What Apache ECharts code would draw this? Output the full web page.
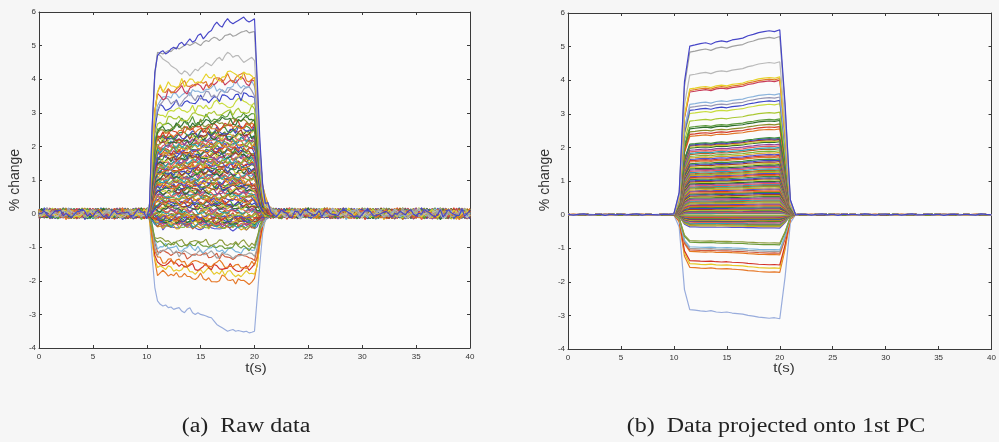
<!DOCTYPE html>
<html><head><meta charset="utf-8">
<script src="https://cdn.jsdelivr.net/npm/echarts@6/dist/echarts.min.js"></script>
<style>html,body{margin:0;padding:0;background:#f6f6f6}#c{width:999px;height:442px}</style>
</head><body><div id="c"></div><script>
// ---- data ----
const xTicks = [0, 5, 10, 15, 20, 25, 30, 35, 40];
const yTicks = [-4, -3, -2, -1, 0, 1, 2, 3, 4, 5, 6];
const rawStep = 0.25, nRaw = 161; // raw sampling grid 0..40 s
const pcStep = 0.5, nPc = 81;     // PC sampling grid 0..40 s

// plateau (end-of-stimulus) levels of every trace in panel (a) raw data
const rawLevels = [5.8, 5.4, 4.6, 4.15, 4.05, 3.95, 3.8, 3.65, 3.5, 3.3, 3.05, 2.9, 2.8, 2.75,
 2.65, 2.6, 2.52, 2.48, 2.42, 2.38, 2.33, 2.3, 2.25, 2.21, 2.17, 2.12, 2.08, 2.03, 2.0, 1.96, 1.92, 1.88, 1.84, 1.8,
 1.76, 1.72, 1.69, 1.65, 1.61, 1.57, 1.53, 1.5, 1.46, 1.42, 1.38, 1.35, 1.31, 1.27, 1.23, 1.2, 1.16, 1.12, 1.08, 1.05,
 1.01, 0.97, 0.93, 0.9, 0.86, 0.82, 0.78, 0.75, 0.71, 0.67, 0.63, 0.6, 0.56, 0.52, 0.48, 0.45, 0.41, 0.37, 0.33, 0.3,
 0.26, 0.22, 0.18, 0.15, 0.11, 0.07, 0.04,
 -0.02, -0.05, -0.08, -0.1, -0.13, -0.15, -0.18, -0.2, -0.23, -0.25, -0.28, -0.3, -0.33, -0.35, -0.38, -0.4, -0.43,
 -0.9, -1.0, -1.1, -1.25, -1.3, -1.55, -1.65, -1.8, -2.0, -3.5];

// plateau levels of the same traces in panel (b), projected onto 1st PC
const pcLevels = [5.5, 5.3, 4.55, 4.1, 4.05, 4.0, 3.6, 3.5, 3.4, 3.3, 3.05, 2.85, 2.8, 2.7,
 2.62, 2.55, 2.3, 2.27, 2.24, 2.2, 2.17, 2.1, 2.05, 2.0, 1.96, 1.9, 1.85, 1.8, 1.76, 1.72, 1.66, 1.62, 1.58, 1.53,
 1.49, 1.45, 1.41, 1.37, 1.33, 1.3, 1.27, 1.24, 1.21, 1.18, 1.14, 1.1, 1.07, 1.04, 1.0, 0.97, 0.93, 0.9, 0.87, 0.84,
 0.8, 0.77, 0.74, 0.7, 0.67, 0.64, 0.6, 0.57, 0.54, 0.5, 0.47, 0.44, 0.41, 0.38, 0.35, 0.32, 0.29, 0.26, 0.23, 0.2,
 0.17, 0.14, 0.12, 0.09, 0.07, 0.05, 0.03,
 -0.02, -0.04, -0.06, -0.08, -0.1, -0.12, -0.14, -0.16, -0.18, -0.2, -0.22, -0.25, -0.28, -0.3, -0.33, -0.36, -0.4,
 -0.85, -0.9, -1.05, -1.1, -1.15, -1.2, -1.5, -1.6, -1.72, -3.1];

// normalised response shape of the raw traces (t = 0, 0.25, ... 40 s): flat 0 before 10.25 s and after 21.5 s
const rawProfileCore = [0.05,0.4,0.75,0.88,
 0.89,0.9,0.9,0.91,0.91,0.92,0.92,0.93,0.93,0.93,0.94,0.94,0.95,0.95,0.95,0.96,0.96,0.97,0.97,0.97,
 0.98,0.98,0.98,0.98,0.99,0.99,0.99,0.99,1.0,1.0,1.0,1.0,1.0,1.0,1.0,1.0,
 0.8,0.45,0.2,0.1,0.05,0.02]; // t = 10.25 ... 21.5 s
const rawProfile = [].concat(Array(41).fill(0), rawProfileCore, Array(74).fill(0));

// shape of the 1st principal component (t = 0, 0.5, ... 40 s)
const pcProfile = [0.002,-0.003,0.001,0.004,-0.002,0.0,0.003,-0.004,0.002,-0.001,0.003,-0.002,0.001,0.004,-0.003,0.002,0.0,-0.002,0.003,0.001,0.004,
 0.12,0.72,0.912,0.918,0.925,0.93,0.922,0.935,0.94,0.935,0.945,0.95,0.955,0.968,0.975,0.985,0.99,0.995,0.99,1.0,0.6,0.08,
 -0.002,0.003,0.001,-0.003,0.002,0.004,-0.001,0.002,-0.004,0.003,0.0,0.002,-0.002,0.004,0.001,-0.003,0.002,0.003,-0.001,0.002,
 -0.003,0.001,0.004,-0.002,0.0,0.003,-0.001,0.002,-0.004,0.001,0.003,-0.002,0.002,0.0,-0.003,0.004,0.001,-0.001];

// measurement noise patterns seen on the raw traces
const rawNoise = [0.2,0.5,0.1,-0.3,-0.6,-0.2,0.4,0.8,0.3,-0.1,0.2,-0.5,-0.9,-0.4,0.1,0.6,0.9,0.2,-0.3,-0.1,
 -0.7,0.0,0.5,0.3,-0.4,-0.8,-0.5,0.3,0.7,0.1,-0.2,0.4,0.6,-0.1,-0.6,-0.3,0.2,0.8,0.5,-0.2,
 -0.7,-0.4,0.1,0.5,-0.3,0.3,0.9,0.4,-0.5,-0.2,0.0,0.6,-0.6];
const rawNoise2 = [-0.4,0.7,0.1,-0.8,0.5,-0.2,0.9,-0.6,0.3,0.0,-0.7,0.6,-0.3,0.8,-0.1,0.4,-0.9,0.2,0.5,-0.5,
 0.7,-0.2,0.1,-0.6,0.9,-0.4,0.3,-0.8,0.6,0.0,-0.3];

// distinct raw traces read point by point over t = 10.5 ... 21 s (0.25 s steps)
const rawTopTrace = [2.6,4.2,4.7,4.8,4.85,4.75,4.8,4.9,4.95,4.9,5.05,5.1,5.0,5.1,5.2,5.1,5.15,5.3,5.35,5.2,
 5.3,5.4,5.45,5.6,5.7,5.6,5.55,5.7,5.8,5.7,5.65,5.7,5.75,5.8,5.85,5.75,5.7,5.75,5.8,4.0,2.2,0.9,0.3];
const rawGray1Trace = [2.5,4.2,4.8,4.78,4.75,4.8,4.85,4.82,4.9,4.95,4.9,4.95,5.0,5.05,5.0,5.05,5.1,5.05,5.0,5.1,
 5.15,5.12,5.2,5.25,5.22,5.15,5.2,5.3,5.32,5.35,5.28,5.3,5.35,5.4,5.42,5.45,5.38,5.4,5.42,3.8,2.0,0.8,0.3];
const rawGray2Trace = [2.3,4.1,4.75,4.7,4.6,4.55,4.5,4.4,4.35,4.3,4.2,4.15,4.25,4.2,4.1,4.2,4.3,4.25,4.35,4.4,
 4.5,4.45,4.4,4.5,4.6,4.65,4.55,4.7,4.8,4.75,4.65,4.7,4.7,4.6,4.5,4.55,4.6,4.65,4.55,3.2,1.9,0.7,0.25];
const rawLowTrace = [-1.3,-2.2,-2.6,-2.7,-2.75,-2.72,-2.8,-2.78,-2.85,-2.82,-2.8,-2.9,-2.95,-2.85,-2.8,-2.95,-3.0,-2.95,-3.0,-3.02,
 -3.05,-3.08,-3.1,-3.2,-3.3,-3.35,-3.4,-3.45,-3.5,-3.47,-3.45,-3.5,-3.48,-3.5,-3.52,-3.5,-3.55,-3.53,-3.5,-2.5,-1.5,-0.6,-0.2];

// ---- styles ----
const topColors = ['#4646c8','#a0a0a0','#b8b8b8','#e6d228','#e07a28','#c83c5a','#8cb4dc','#9696b4','#3c46c8','#c8dc3c','#aac832','#5a9a3c','#2e6e2e','#8c8c28'];
const bulkColors = ['#d23c28','#e07828','#3c8c3c','#3c46c0','#a03c28','#c8c832','#2c6e2c','#8c46a0','#e65a5a','#28a0b4','#b46428','#78b43c','#d8a020','#5050d0'];
const negColors = ['#8c9a3c','#6a9a3a','#78b4dc','#a0a0a0','#d25a3c','#e6781e','#d23228','#e6c828','#e67828','#98acdc'];

const N = rawLevels.length;
const lineColors = [];
for (let k = 0; k < N; k++) {
  if (k < topColors.length) lineColors.push(topColors[k]);
  else if (k >= N - negColors.length) lineColors.push(negColors[k - (N - negColors.length)]);
  else lineColors.push(bulkColors[(k - topColors.length) % bulkColors.length]);
}
const overrides = [[0, rawTopTrace], [1, rawGray1Trace], [2, rawGray2Trace], [N - 1, rawLowTrace]];
const ovStart = 42, ovEnd = 84; // sample indices of t = 10.5 and 21 s

const series = [];
for (let k = N - 1; k >= 0; k--) {
  const ov = overrides.find(o => o[0] === k);
  const raw = [], pc = [];
  for (let i = 0; i < nRaw; i++) {
    const t = i * rawStep;
    const nz = 0.75 * rawNoise[(i + 17 * k) % rawNoise.length] + 0.4 * rawNoise2[(3 * i + 11 * k) % rawNoise2.length];
    let y;
    if (ov && i >= ovStart && i <= ovEnd) y = ov[1][i - ovStart];
    else {
      const amp = rawProfile[i] > 0.5 ? 0.12 + 0.02 * Math.abs(rawLevels[k]) : 0.17;
      y = rawLevels[k] * rawProfile[i] + amp * nz;
    }
    raw.push([t, y]);
  }
  for (let i = 0; i < nPc; i++) pc.push([i * pcStep, pcLevels[k] * pcProfile[i]]);
  series.push({type:'line', xAxisIndex:0, yAxisIndex:0, data:raw, showSymbol:false, symbol:'none', silent:true,
    lineStyle:{width:1.15, color:lineColors[k]}, itemStyle:{color:lineColors[k]}});
  series.push({type:'line', xAxisIndex:2, yAxisIndex:2, data:pc, showSymbol:false, symbol:'none', silent:true,
    lineStyle:{width:1.2, color:lineColors[k]}, itemStyle:{color:lineColors[k]}});
}

const axCol = '#3a3a3a';
function xa(g, top) {
  return {gridIndex:g, type:'value', min:xTicks[0], max:xTicks[xTicks.length-1], interval:5, position: top ? 'top' : 'bottom',
    axisLine:{show:true, onZero:false, lineStyle:{color:axCol, width:1}},
    axisTick:{show:true, inside:true, length:3, lineStyle:{color:axCol}},
    axisLabel:{show:!top, fontSize:8, color:'#333', margin:5, fontFamily:'Liberation Sans'},
    splitLine:{show:false}};
}
function ya(g, right) {
  return {gridIndex:g, type:'value', min:yTicks[0], max:yTicks[yTicks.length-1], interval:1, position: right ? 'right' : 'left',
    axisLine:{show:true, onZero:false, lineStyle:{color:axCol, width:1}},
    axisTick:{show:true, inside:true, length:3, lineStyle:{color:axCol}},
    axisLabel:{show:!right, fontSize:8, color:'#333', margin:3, fontFamily:'Liberation Sans'},
    splitLine:{show:false}};
}

const chart = echarts.init(document.getElementById('c'), null, {renderer:'canvas'});
chart.setOption({
  backgroundColor:'#f6f6f6',
  animation:false,
  grid:[
    {left:39, top:12, width:431, height:336, show:true, backgroundColor:'#fbfbfb', borderWidth:0},
    {left:568, top:13, width:430, height:336, show:true, backgroundColor:'#fbfbfb', borderWidth:0}
  ],
  xAxis:[xa(0,false), xa(0,true), xa(1,false), xa(1,true)],
  yAxis:[ya(0,false), ya(0,true), ya(1,false), ya(1,true)],
  series: series,
  graphic:[
    {type:'text', x:15, y:180, rotation:Math.PI/2, style:{text:'% change', fontSize:14, fontFamily:'Liberation Sans', fill:'#333', textAlign:'center', textVerticalAlign:'middle'}},
    {type:'text', x:545, y:180, rotation:Math.PI/2, style:{text:'% change', fontSize:14, fontFamily:'Liberation Sans', fill:'#333', textAlign:'center', textVerticalAlign:'middle'}},
    {type:'text', x:256, y:368, scaleX:1.15, style:{text:'t(s)', fontSize:13, fontFamily:'Liberation Sans', fill:'#333', textAlign:'center', textVerticalAlign:'middle'}},
    {type:'text', x:784, y:368, scaleX:1.15, style:{text:'t(s)', fontSize:13, fontFamily:'Liberation Sans', fill:'#333', textAlign:'center', textVerticalAlign:'middle'}},
    {type:'text', x:246, y:427, scaleX:1.2, style:{text:'(a)  Raw data', fontSize:20, fontFamily:'Liberation Serif', fill:'#222', textAlign:'center', textVerticalAlign:'middle'}},
    {type:'text', x:776, y:427, scaleX:1.2, style:{text:'(b)  Data projected onto 1st PC', fontSize:20, fontFamily:'Liberation Serif', fill:'#222', textAlign:'center', textVerticalAlign:'middle'}}
  ]
});
</script></body></html>
